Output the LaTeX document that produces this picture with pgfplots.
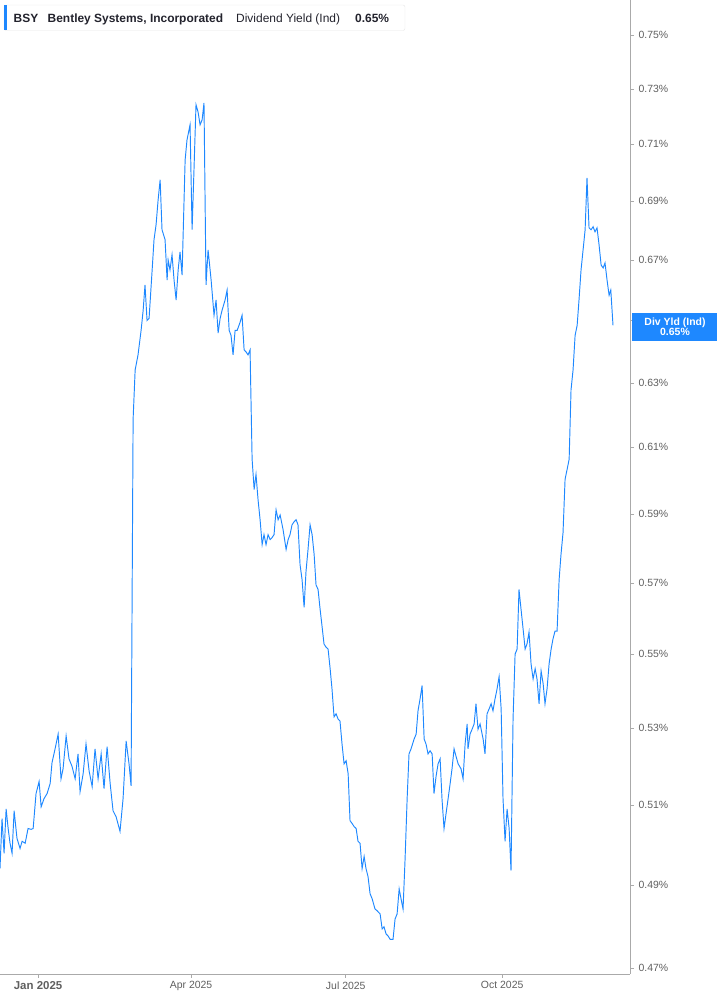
\documentclass[border=0pt]{standalone}
\usepackage{pgfplots}
\pgfplotsset{compat=1.18}
\usepackage{fontspec}
\setmainfont{Liberation Sans}
\definecolor{yldblue}{RGB}{30,136,255}
\definecolor{labgray}{RGB}{95,95,95}
\definecolor{axgray}{RGB}{170,170,170}
\definecolor{hdtext}{RGB}{35,35,45}

\begin{document}
\begin{tikzpicture}
\useasboundingbox (0bp,0bp) rectangle (717bp,1005bp);
\begin{axis}[
    at={(0bp,31bp)}, anchor=south west,
    scale only axis,
    width=630bp, height=974bp,
    ymode=log,
    xmin=-22.4, xmax=348.2,
    ymin=0.4686, ymax=0.7632,
    axis x line=bottom, axis y line=right,
    axis line style={-, draw=axgray, line width=0.8pt},
    tick align=outside,
    major tick length=4bp,
    tick style={draw=axgray, line width=0.6pt},
    minor tick style={draw=none},
    xtick={0,90,181,273},
    xticklabels={{\raisebox{-4bp}{\fontsize{11.5}{13}\selectfont\bfseries Jan 2025}},Apr 2025,Jul 2025,Oct 2025},
    ytick={0.47,0.49,0.51,0.53,0.55,0.57,0.59,0.61,0.63,0.65,0.67,0.69,0.71,0.73,0.75},
    yticklabels={0.47\%,0.49\%,0.51\%,0.53\%,0.55\%,0.57\%,0.59\%,0.61\%,0.63\%,{},0.67\%,0.69\%,0.71\%,0.73\%,0.75\%},
    xticklabel style={font=\fontsize{10.5}{12}\selectfont, text=labgray},
    yticklabel style={font=\fontsize{10.5}{12}\selectfont, text=labgray, xshift=1bp},
  ]
\addplot[yldblue, line width=0.95pt, mark=none] coordinates {
(-22.4,0.494) (-21.2,0.5065) (-20.0,0.4978) (-18.8,0.509) (-17.6,0.504) (-16.5,0.5003)
(-15.3,0.4978) (-14.1,0.5085) (-12.4,0.5015) (-10.6,0.499) (-9.4,0.5008) (-7.6,0.5003)
(-5.9,0.504) (-4.1,0.5038) (-2.9,0.504) (-1.2,0.5129) (0.6,0.516) (1.8,0.5095)
(3.5,0.5116) (5.3,0.5129) (7.1,0.5155) (8.2,0.5209) (10.0,0.5245) (11.8,0.5284)
(13.5,0.5167) (14.7,0.5193) (16.5,0.5279) (18.2,0.5219) (20.0,0.5199) (21.8,0.5167)
(23.5,0.5232) (24.7,0.5134) (26.5,0.518) (28.2,0.5258) (30.0,0.5188) (31.8,0.5147)
(33.5,0.5245) (35.3,0.5167) (37.1,0.5232) (38.8,0.5142) (40.6,0.5251) (42.4,0.5155)
(44.1,0.5085) (45.9,0.507) (48.2,0.5033) (50.0,0.5116) (51.8,0.5266) (53.5,0.5206)
(54.7,0.5149) (55.9,0.6186) (57.1,0.6341) (58.8,0.6389) (60.6,0.6468) (61.8,0.6533)
(62.9,0.6617) (64.1,0.65) (65.3,0.6507) (67.1,0.6667) (68.2,0.6768) (69.4,0.6819)
(70.6,0.6904) (71.8,0.6974) (72.9,0.6802) (74.7,0.6768) (75.9,0.6633) (76.5,0.67)
(77.6,0.6667) (78.8,0.6717) (80.0,0.6633) (81.2,0.6567) (82.4,0.6667) (83.5,0.6727)
(84.7,0.665) (86.5,0.7044) (87.6,0.7115) (89.4,0.7169) (90.6,0.6802) (91.8,0.7026)
(92.9,0.7242) (94.1,0.7216) (95.3,0.7169) (96.5,0.7187) (97.6,0.7249) (98.8,0.6617)
(100.0,0.6734) (101.8,0.6633) (103.5,0.6517) (104.7,0.6567) (105.9,0.6459) (107.1,0.6507)
(108.2,0.6533) (110.0,0.6567) (111.2,0.66) (112.4,0.6468) (113.5,0.6452) (114.7,0.6389)
(115.9,0.6468) (117.1,0.6468) (118.8,0.6494) (120.0,0.6517) (121.2,0.6405) (122.4,0.6398)
(123.5,0.6389) (124.7,0.6405) (125.9,0.6064) (127.1,0.5973) (128.2,0.6018) (129.4,0.5942)
(130.6,0.5883) (131.8,0.581) (132.9,0.5839) (134.1,0.581) (135.3,0.5839) (136.5,0.5825)
(137.6,0.583) (138.8,0.5839) (140.0,0.5912) (141.2,0.5883) (142.4,0.5897) (144.1,0.5854)
(145.9,0.5796) (147.1,0.5825) (148.2,0.5839) (149.4,0.5868) (150.6,0.5877) (151.8,0.5883)
(152.9,0.5868) (154.1,0.5752) (155.3,0.5709) (156.5,0.563) (157.6,0.5732) (158.8,0.5796)
(160.0,0.5868) (161.2,0.5839) (162.4,0.5781) (163.5,0.5694) (164.7,0.5681) (165.9,0.5625)
(167.1,0.5575) (168.2,0.5528) (169.4,0.5519) (170.6,0.5514) (171.8,0.546) (172.9,0.5405)
(174.1,0.533) (175.3,0.5338) (176.5,0.5324) (177.6,0.5319) (178.8,0.5258) (180.0,0.5206)
(181.2,0.5214) (182.4,0.518) (183.5,0.506) (184.7,0.5053) (185.9,0.5045) (187.1,0.504)
(188.2,0.5008) (189.4,0.5003) (190.6,0.494) (191.8,0.497) (192.9,0.494) (194.1,0.492)
(195.3,0.4878) (196.5,0.4866) (198.2,0.4841) (199.4,0.4837) (201.2,0.4829) (202.4,0.4793)
(203.5,0.4798) (204.7,0.4781) (205.9,0.4776) (207.1,0.4768) (208.8,0.4768) (210.0,0.4817)
(211.2,0.4829) (212.4,0.489) (213.5,0.4866) (214.7,0.4841) (215.9,0.4965) (217.1,0.5116)
(218.2,0.5232) (219.4,0.5245) (221.2,0.5271) (222.4,0.5284) (223.5,0.5346) (224.7,0.5378)
(225.9,0.5414) (227.1,0.5271) (228.2,0.5258) (229.4,0.5232) (230.6,0.524) (231.8,0.5232)
(232.9,0.5129) (234.1,0.5173) (235.3,0.5206) (236.5,0.5219) (237.6,0.5116) (238.8,0.504)
(240.0,0.5078) (241.2,0.5116) (242.4,0.5155) (243.5,0.5193) (244.7,0.5245) (245.9,0.5225)
(247.1,0.5206) (248.8,0.5193) (250.0,0.5167) (251.2,0.5258) (252.4,0.5311) (252.9,0.5245)
(254.1,0.5284) (255.3,0.5297) (256.5,0.5311) (257.6,0.5365) (258.8,0.5297) (260.0,0.5311)
(261.8,0.5271) (262.9,0.5232) (264.1,0.5338) (265.3,0.5351) (266.5,0.5365) (267.6,0.5346)
(268.8,0.5378) (270.0,0.5405) (271.2,0.5438) (272.4,0.5351) (273.5,0.5116) (274.7,0.5008)
(275.9,0.509) (277.1,0.504) (278.2,0.4935) (279.4,0.5324) (280.6,0.55) (281.8,0.5514)
(282.9,0.5681) (284.1,0.5625) (285.3,0.557) (286.5,0.5514) (287.6,0.5528) (288.8,0.5561)
(290.0,0.5473) (291.2,0.5432) (292.4,0.546) (293.5,0.5432) (294.7,0.5365) (295.9,0.5454)
(297.1,0.5419) (298.2,0.5365) (299.4,0.5405) (300.6,0.5473) (301.8,0.5514) (302.9,0.5542)
(304.1,0.5564) (305.3,0.5564) (306.5,0.5709) (307.6,0.5781) (308.8,0.5845) (310.0,0.6003)
(311.2,0.6033) (312.4,0.6064) (313.5,0.6278) (314.7,0.6341) (315.9,0.6452) (317.1,0.6484)
(318.2,0.6567) (319.4,0.6667) (320.6,0.6734) (321.8,0.6802) (322.9,0.6981) (324.1,0.6809)
(325.3,0.6802) (326.5,0.6812) (327.6,0.6795) (328.8,0.6809) (330.0,0.6751) (331.2,0.6683)
(332.4,0.6673) (333.5,0.669) (334.7,0.6633) (335.9,0.6583) (336.9,0.66) (338.2,0.6484)
};
\end{axis}
% header box
\filldraw[fill=white, draw=black!10, rounded corners=2bp] (4bp,974.5bp) rectangle (405bp,1000bp);
\fill[yldblue] (4bp,974.5bp) rectangle (7bp,1000bp);
\begin{scope}[every node/.style={anchor=base west, inner sep=0pt, text=hdtext, font=\fontsize{12}{14}\selectfont}]
\node at (13.5bp,982bp) {\bfseries BSY};
\node at (47.5bp,982bp) {\bfseries Bentley Systems, Incorporated};
\node at (236bp,982bp) {Dividend Yield (Ind)};
\node at (355bp,982bp) {\bfseries 0.65\%};
\end{scope}
% last value label
\fill[yldblue] (632bp,664bp) rectangle (717bp,692bp);
\node[anchor=center, inner sep=0pt, text=white, font=\bfseries\fontsize{10.5}{12}\selectfont, align=center] at (675bp,678bp) {Div Yld (Ind)\\[-1.5pt]0.65\%};
\end{tikzpicture}
\end{document}
